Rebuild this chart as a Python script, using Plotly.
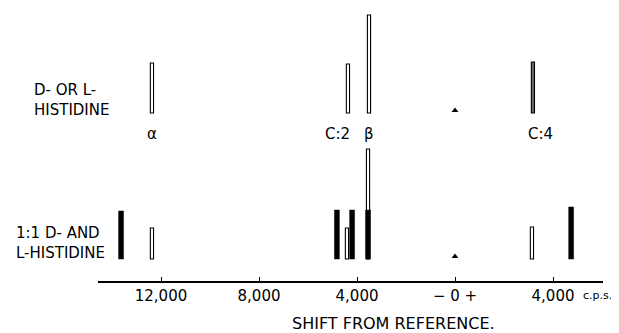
import plotly.graph_objects as go

# ---- data (shift in c.p.s.; negative = left of reference) ----
top_shift = [-12370, -4370, -3510, 3180]
top_height = [1.00, 0.98, 1.96, 1.02]
top_labels = ["α", "C:2", "β", "C:4"]

mix_open_shift = [-12370, -4410, -3550, 3140]
mix_open_height = [0.62, 0.62, 2.20, 0.64]
mix_black_shift = [-13630, -4820, -4200, -3550, 4740]
mix_black_height = [0.96, 0.98, 0.98, 0.98, 1.04]

reference_shift = [0]
tick_vals = [-12000, -8000, -4000, 0, 4000]
tick_text = ["12,000", "8,000", "4,000", "− 0 +", "4,000"]

# page body offset compensation
OX, OY = 8, 8
W, H = 619 - OX, 333 - OY
AX_L, AX_R, AX_Y, TOP = 98, 603, 281, 10     # target pixel positions in the window
ML = AX_L - OX
MR = W - (AX_R - OX)
MT = TOP - OY
MB = H - (AX_Y - OY)
plot_w = W - ML - MR
plot_h = H - MT - MB
px_per_unit = 50.0
split = 0.54
bot_px = plot_h * split
top_px = plot_h * (1 - split)
base_off_bot = (AX_Y - 259) / px_per_unit
base_off_top = ((AX_Y - bot_px) - 113) / px_per_unit


def px_x(x):
    return (x - AX_L) / plot_w


def px_y(y):
    return (AX_Y - y) / plot_h


FONT = "DejaVu Sans"
open_w = 130
black_w = 200
top_fill = ["white", "white", "white", "#666666"]

fig = go.Figure()
fig.add_trace(go.Bar(x=top_shift, y=top_height, width=open_w, yaxis="y2",
                     marker=dict(color=top_fill, line=dict(color="black", width=1.1)),
                     showlegend=False))
fig.add_trace(go.Bar(x=mix_open_shift, y=mix_open_height, width=open_w, yaxis="y",
                     marker=dict(color="white", line=dict(color="black", width=1.1)),
                     showlegend=False))
fig.add_trace(go.Bar(x=mix_black_shift, y=mix_black_height, width=black_w, yaxis="y",
                     marker=dict(color="black", line=dict(color="black", width=0.5)),
                     showlegend=False))
for ax in ["y", "y2"]:
    fig.add_trace(go.Scatter(x=reference_shift, y=[0.05], yaxis=ax, mode="markers",
                             marker=dict(symbol="triangle-up", size=6, color="black"),
                             showlegend=False))

shifts_px = {"α": 0, "C:2": -10, "β": 0, "C:4": 8}
for xs, lab in zip(top_shift, top_labels):
    fig.add_annotation(x=xs, y=-0.42, xref="x", yref="y2", text=lab, showarrow=False,
                       xshift=shifts_px[lab],
                       font=dict(family=FONT, size=15, color="black"))

fig.add_annotation(xref="paper", yref="paper", x=px_x(32), y=px_y(100),
                   xanchor="left", yanchor="middle", align="left",
                   text="D- OR L-<br>HISTIDINE", showarrow=False,
                   font=dict(family=FONT, size=15, color="black"))
fig.add_annotation(xref="paper", yref="paper", x=px_x(14), y=px_y(243),
                   xanchor="left", yanchor="middle", align="left",
                   text="1:1 D- AND<br>L-HISTIDINE", showarrow=False,
                   font=dict(family=FONT, size=15, color="black"))
fig.add_annotation(xref="paper", yref="paper", x=px_x(597), y=px_y(295),
                   xanchor="center", yanchor="middle",
                   text="c.p.s.", showarrow=False,
                   font=dict(family=FONT, size=11, color="black"))
fig.add_annotation(xref="paper", yref="paper", x=px_x(393), y=px_y(323),
                   xanchor="center", yanchor="middle",
                   text="SHIFT FROM REFERENCE.", showarrow=False,
                   font=dict(family=FONT, size=16, color="black"))

x0 = (AX_L - 455) / 98 * 4000
x1 = (AX_R - 455) / 98 * 4000
fig.update_layout(
    width=W, height=H, margin=dict(l=ML, r=MR, t=MT, b=MB),
    paper_bgcolor="white", plot_bgcolor="white", barmode="overlay",
    xaxis=dict(range=[x0, x1], tickvals=tick_vals, ticktext=tick_text,
               showline=True, linecolor="black", linewidth=1.5,
               ticks="inside", ticklen=4, tickcolor="black", tickwidth=1.2,
               showgrid=False, zeroline=False, anchor="y",
               tickfont=dict(family=FONT, size=15, color="black")),
    yaxis=dict(domain=[0, split], range=[-base_off_bot, -base_off_bot + bot_px / px_per_unit],
               visible=False, showgrid=False, zeroline=False),
    yaxis2=dict(domain=[split, 1], range=[-base_off_top, -base_off_top + top_px / px_per_unit],
                visible=False, showgrid=False, zeroline=False, anchor="x"),
)
fig.write_html("out.html")
